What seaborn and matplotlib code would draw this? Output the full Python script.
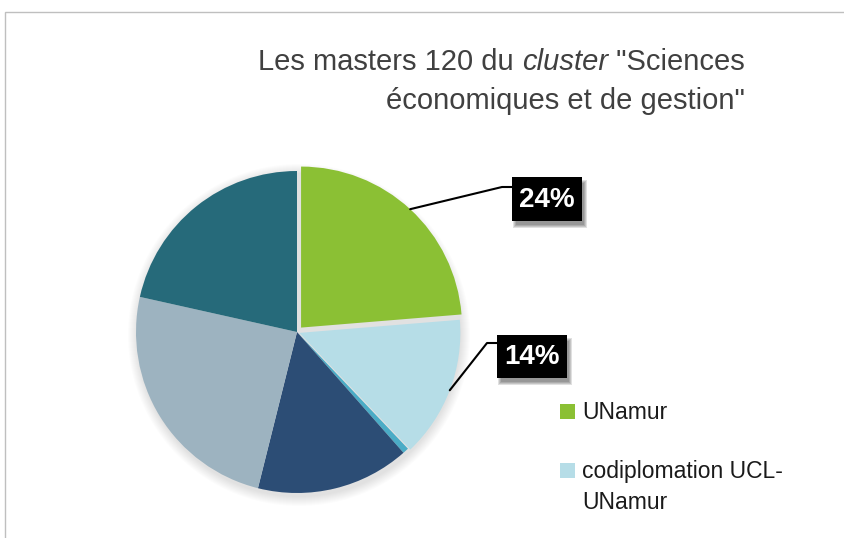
import matplotlib
matplotlib.use("Agg")
import matplotlib.pyplot as plt
from matplotlib.patches import Rectangle, Circle
import numpy as np
import seaborn as sns

# share of the 120 masters per organiser
providers = ["UNamur", "codiplomation UCL-\nUNamur", "autre", "UCL", "ULB", "ULiège"]
shares = [23.7, 14.2, 0.6, 15.4, 24.6, 21.5]
slice_colors = ["#8BC034", "#B6DDE7", "#4BACC6", "#2C4D75", "#9DB3C0", "#266A7A"]
shown = 2  # only the first two slices carry a label / legend entry

W, H = 845, 538
sns.set_style("white")
plt.rcParams["font.family"] = ["Liberation Sans", "DejaVu Sans"]


def px(x, y):
    # pixel position (origin top-left) -> data coords
    return x, H - y


fig = plt.figure(figsize=(W / 100, H / 100), dpi=100)
ax = fig.add_axes([0, 0, 1, 1])

cx, cy = px(297, 332)
radius = 161
explode = [6, 2.5, 0, 0, 0, 0]

# soft shadow round the pie
for k in range(10):
    ax.add_patch(Circle((cx + 2, cy - 3), radius + 10 - k, color="black",
                        alpha=0.012, lw=0, zorder=0))

wedges, _ = ax.pie(shares, colors=slice_colors, startangle=90, counterclock=False,
                   explode=explode, center=(cx, cy), radius=radius, frame=True,
                   wedgeprops=dict(linewidth=0))

ax.set_xlim(0, W)
ax.set_ylim(0, H)
ax.axis("off")

# chart frame
ax.add_patch(Rectangle(px(5, 560), 900, 548, fill=False, ec="#BFBFBF", lw=1, zorder=1))

# title, right aligned, "cluster" in italics
renderer = fig.canvas.get_renderer()
title_color = "#404040"
x_right = 745
parts = [("Les masters 120 du ", "normal"), ("cluster", "italic"), (' "Sciences', "normal")]
x = x_right
for txt, style in reversed(parts):
    t = ax.text(*px(x, 62), txt, ha="right", va="center", fontsize=21,
                style=style, color=title_color)
    x -= t.get_window_extent(renderer).width
ax.text(*px(x_right, 101), 'économiques et de gestion"', ha="right", va="center",
        fontsize=21, color=title_color)

# data labels with leader lines
total = sum(shares)
cum = np.cumsum([0] + shares[:-1])
elbows = [(502, 187), (487, 343)]
boxes = [(512, 177, 70, 44), (497, 335, 70, 43)]  # left, top, width, height in px
for i in range(shown):
    mid = 90 - 360 * (cum[i] + shares[i] / 2) / total
    r = radius + explode[i]
    sx = cx + r * np.cos(np.radians(mid))
    sy = cy + r * np.sin(np.radians(mid))
    ex, ey = px(*elbows[i])
    bl, bt, bw, bh = boxes[i]
    ax.plot([sx, ex, bl], [sy, ey, ey], color="black", lw=1.5, zorder=3)
    # blurred drop shadow of the label box
    for k in range(4):
        ax.add_patch(Rectangle(px(bl + 4 - k, bt + bh + 4 + k), bw + 2 * k - 2, bh + 2 * k - 2,
                               color="black", alpha=0.12, lw=0, zorder=3))
    ax.add_patch(Rectangle(px(bl, bt + bh), bw, bh, color="black", lw=0, zorder=4))
    label = f"{round(shares[i] / total * 100)}%"
    ax.text(*px(bl + bw / 2, bt + bh / 2 + 1), label, ha="center", va="center",
            fontsize=20, fontweight="bold", color="white", zorder=5)

# legend (only the visible part of it), drawn by hand
leg_rows = [404, 463]  # top of each square, px
for i in range(shown):
    top = leg_rows[i]
    ax.add_patch(Rectangle(px(560, top + 15), 15, 15, color=slice_colors[i], lw=0))
    for j, line in enumerate(providers[i].split("\n")):
        ax.text(*px(582, top + 15 + 31 * j), line, ha="left", va="baseline",
                fontsize=16.5, color="#1a1a1a")

fig.savefig("out.png", dpi=100)
